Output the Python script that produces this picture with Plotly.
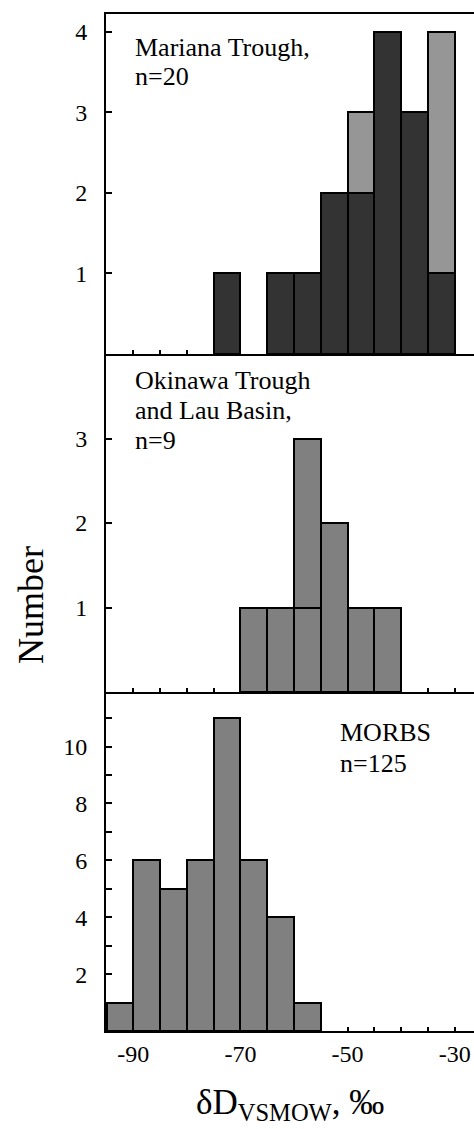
import plotly.graph_objects as go
from plotly.subplots import make_subplots

# ---- data (bin left edges, 5-unit bins) ----
bin_width = 5
mariana_bins = [-75, -70, -65, -60, -55, -50, -45, -40, -35]
mariana_dark = [1, 0, 1, 1, 2, 2, 4, 3, 1]
mariana_light = [0, 0, 0, 0, 0, 1, 0, 0, 3]

okinawa_bins = [-70, -65, -60, -55, -50, -45]
okinawa_lower = [1, 1, 1, 2, 1, 1]
okinawa_upper = [0, 0, 2, 0, 0, 0]

morb_bins = [-95, -90, -85, -80, -75, -70, -65, -60]
morb_counts = [1, 6, 5, 6, 11, 6, 4, 1]

x_tick_vals = [-90, -70, -50, -30]
x_tick_text = ["-90", "-70", "-50", "-30"]

FONT = "Liberation Serif, Times New Roman, serif"
DARK = "#333333"
LIGHT = "#969696"
MID = "#808080"

def centers(bins):
    return [b + bin_width / 2 for b in bins]

def nz(vals):
    return [v if v else None for v in vals]

H = 1129
W = 474
top_px, bot_px = 14, 1031
plot_h = bot_px - top_px
b1 = (bot_px - 692) / plot_h
b2 = (bot_px - 354) / plot_h

fig = make_subplots(rows=3, cols=1, shared_xaxes=False, vertical_spacing=0)

bar_line = dict(color="black", width=2)
fig.add_trace(go.Bar(x=centers(mariana_bins), y=nz(mariana_dark), width=bin_width,
                     marker=dict(color=DARK, line=bar_line)), row=1, col=1)
fig.add_trace(go.Bar(x=centers(mariana_bins), y=nz(mariana_light), width=bin_width,
                     marker=dict(color=LIGHT, line=bar_line)), row=1, col=1)
fig.add_trace(go.Bar(x=centers(okinawa_bins), y=nz(okinawa_lower), width=bin_width,
                     marker=dict(color=MID, line=bar_line)), row=2, col=1)
fig.add_trace(go.Bar(x=centers(okinawa_bins), y=nz(okinawa_upper), width=bin_width,
                     marker=dict(color=MID, line=bar_line)), row=2, col=1)
fig.add_trace(go.Bar(x=centers(morb_bins), y=nz(morb_counts), width=bin_width,
                     marker=dict(color=MID, line=bar_line)), row=3, col=1)

xrange_ = [-95.1, -26.4]
common_x = dict(range=xrange_, showline=True, linecolor="black", linewidth=2,
                ticks="inside", ticklen=4, tickwidth=2, tickcolor="black",
                showgrid=False, zeroline=False,
                tickmode="array", tickvals=x_tick_vals, ticktext=x_tick_text,
                minor=dict(tickmode="linear", tick0=-95, dtick=5, ticks="inside",
                           ticklen=4, tickwidth=2, tickcolor="black"),
                tickfont=dict(family=FONT, size=24, color="black"))

fig.update_layout(
    xaxis=dict(common_x, domain=[0, 1], showticklabels=False, mirror=True),
    xaxis2=dict(common_x, domain=[0, 1], showticklabels=False),
    xaxis3=dict(common_x, domain=[0, 1], showticklabels=True, ticklabelstandoff=0),
)

common_y = dict(showline=True, linecolor="black", linewidth=2, ticks="inside",
                ticklen=6, tickwidth=2, tickcolor="black", showgrid=False,
                zeroline=False, tickfont=dict(family=FONT, size=24, color="black"),
                ticklabelstandoff=12)
fig.update_layout(
    yaxis=dict(common_y, domain=[b2, 1], range=[0, 4.22], tickmode="array", tickvals=[1, 2, 3, 4]),
    yaxis2=dict(common_y, domain=[b1, b2], range=[0, 4.0], tickmode="array", tickvals=[1, 2, 3]),
    yaxis3=dict(common_y, domain=[0, b1], range=[0, 11.92], tickmode="array",
                tickvals=[2, 4, 6, 8, 10],
                minor=dict(tickmode="array", tickvals=[1, 3, 5, 7, 9, 11], ticks="inside",
                           ticklen=6, tickwidth=2, tickcolor="black")),
)

def px_to_paper_y(py):
    return (bot_px - py) / plot_h

ann_font = dict(family=FONT, size=26, color="black")
texts = [
    ("Mariana Trough,", 133, 57),
    ("n=20", 133, 86),
    ("Okinawa Trough", 133, 390),
    ("and Lau Basin,", 133, 420),
    ("n=9", 133, 450),
    ("MORBS", 338, 742),
    ("n=125", 338, 773),
]
annotations = []
for t, px, py in texts:
    annotations.append(dict(text=t, xref="paper", yref="paper",
                            x=(px - 106) / (W - 106), y=px_to_paper_y(py + 7),
                            xanchor="left", yanchor="bottom", showarrow=False,
                            font=ann_font))

annotations.append(dict(text="Number", xref="paper", yref="paper",
                        x=(31 - 106) / (W - 106), y=px_to_paper_y(605),
                        xanchor="center", yanchor="middle", textangle=-90,
                        showarrow=False, font=dict(family=FONT, size=36, color="black")))
annotations.append(dict(text="δD<sub>VSMOW</sub>, ‰", xref="paper", yref="paper",
                        x=(290 - 106) / (W - 106), y=px_to_paper_y(1104),
                        xanchor="center", yanchor="middle", showarrow=False,
                        font=dict(family=FONT, size=35, color="black")))

fig.update_layout(
    width=W, height=H,
    margin=dict(l=106, r=0, t=top_px, b=H - bot_px, pad=0),
    barmode="stack", bargap=0, showlegend=False,
    plot_bgcolor="white", paper_bgcolor="white",
    annotations=annotations,
)

fig.write_html("out.html")
